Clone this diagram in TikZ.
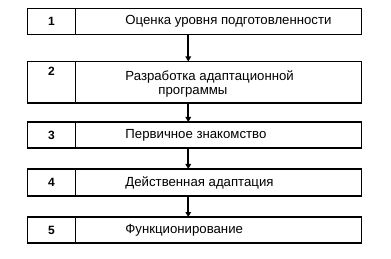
\documentclass[tikz,border=0pt]{standalone}
\usepackage{fontspec}
\setmainfont{Liberation Sans}
\usetikzlibrary{positioning, arrows.meta}

\begin{document}
\begin{tikzpicture}[x=1pt, y=-1pt, >={Triangle[length=5pt, width=5.5pt]}]

\tikzset{
  numcell/.style={
    rectangle, draw, line width=1.3pt, outer sep=0pt, inner sep=0pt,
    minimum width=47.5pt, minimum height=26pt,
    font=\bfseries\fontsize{12}{14}\selectfont
  },
  stepcell/.style={
    rectangle, draw, line width=1.3pt, outer sep=0pt, inner sep=0pt,
    minimum width=286pt, minimum height=26pt
  },
  steptext/.style={
    anchor=west, align=left, inner sep=0pt,
    font=\fontsize{13.2}{14.5}\selectfont
  },
  arrow/.style={->, line width=1.6pt}
}

\useasboundingbox (0,0) rectangle (391,259);

% номера этапов
\node[numcell] (n1) at (51.5,21.5) {1};
\node[numcell, below=27pt of n1, minimum height=0pt, text height=14pt, text depth=27.5pt] (n2) {2};
\node[numcell, below=19pt of n2] (n3) {3};
\node[numcell, below=21pt of n3, minimum height=27pt] (n4) {4};
\node[numcell, below=21pt of n4] (n5) {5};

% ячейки этапов
\node[stepcell, right=0pt of n1] (s1) {};
\node[stepcell, right=0pt of n2, minimum height=41.5pt] (s2) {};
\node[stepcell, right=0pt of n3] (s3) {};
\node[stepcell, right=0pt of n4, minimum height=27pt] (s4) {};
\node[stepcell, right=0pt of n5] (s5) {};

% тексты
\node[steptext, xshift=50pt] (t1) at (s1.west) {Оценка уровня подготовленности};
\node[steptext, xshift=50pt, yshift=-1.5pt] (t2) at (s2.west) {Разработка адаптационной\\\hspace*{33pt}программы};
\node[steptext, xshift=50pt] (t3) at (s3.west) {Первичное знакомство};
\node[steptext, xshift=50pt] (t4) at (s4.west) {Действенная адаптация};
\node[steptext, xshift=50pt] (t5) at (s5.west) {Функционирование};

% стрелки
\draw[arrow] ([xshift=-30pt]s1.south) -- ([xshift=-30pt]s2.north);
\draw[arrow] ([xshift=-30pt]s2.south) -- ([xshift=-30pt]s3.north);
\draw[arrow] ([xshift=-30pt]s3.south) -- ([xshift=-30pt]s4.north);
\draw[arrow] ([xshift=-30pt]s4.south) -- ([xshift=-30pt]s5.north);

\end{tikzpicture}
\end{document}
